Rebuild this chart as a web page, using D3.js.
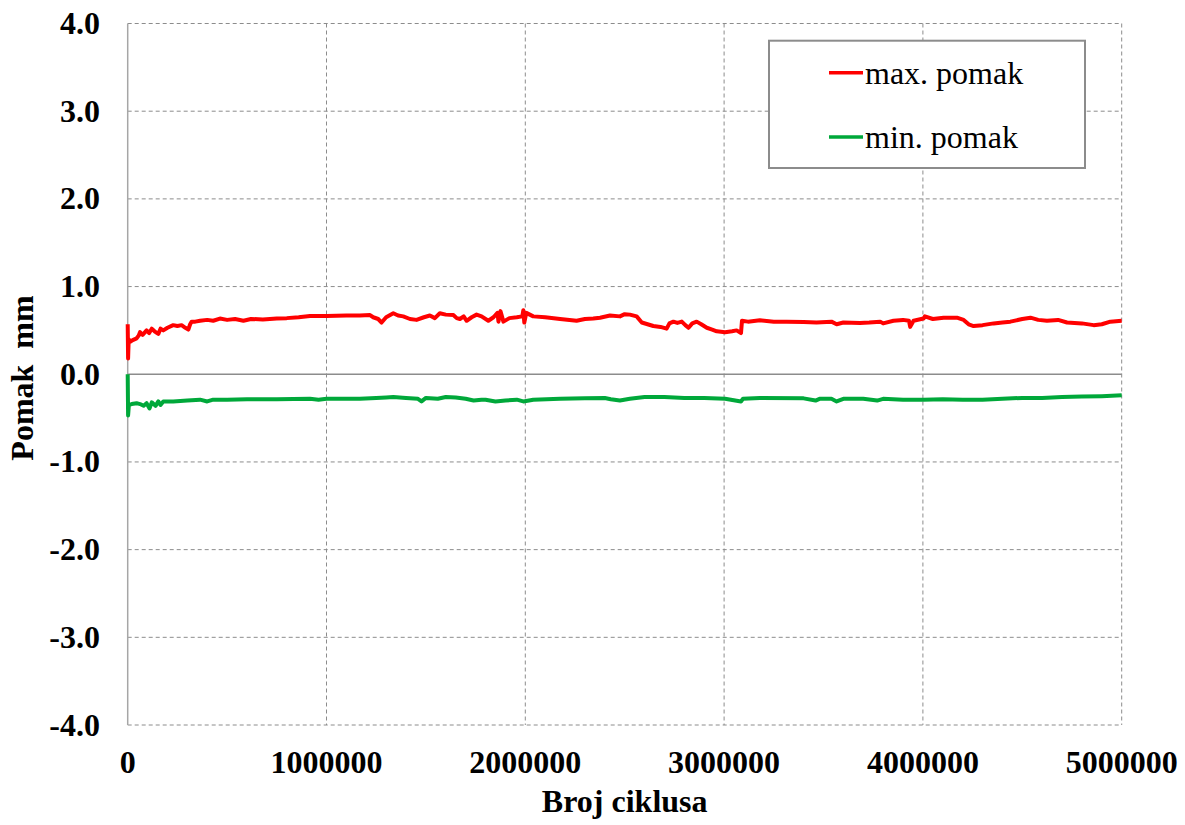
<!DOCTYPE html>
<html>
<head>
<meta charset="utf-8">
<script src="https://cdn.jsdelivr.net/npm/d3@7"></script>
<style>
  html, body { margin: 0; padding: 0; background: #fff; }
  svg { display: block; }
  svg text { font-family: "Liberation Serif", "Times New Roman", Times, serif; }
</style>
</head>
<body>
<svg id="chart" width="1185" height="825"></svg>
<script>
// ---- Data ----
const xTicks = [0, 1000000, 2000000, 3000000, 4000000, 5000000];
const yTicks = [4, 3, 2, 1, 0, -1, -2, -3, -4];
const seriesNames = ["max. pomak", "min. pomak"];
const seriesColors = ["#ff0000", "#00a83a"];

const maxPomak = [
[0,0.57],[2000,0.18],[5000,0.40],[12000,0.37],[25000,0.39],[45000,0.41],[55000,0.44],[62000,0.48],[75000,0.45],[95000,0.50],[108000,0.47],[121000,0.52],[135000,0.49],[154000,0.46],[165000,0.52],[179000,0.50],[200000,0.53],[229000,0.56],[250000,0.55],[271000,0.56],[290000,0.53],[305000,0.51],[314000,0.57],[322000,0.60],[340000,0.60],[364000,0.61],[400000,0.62],[430000,0.61],[464000,0.635],[500000,0.62],[540000,0.63],[582000,0.61],[620000,0.63],[680000,0.625],[750000,0.635],[800000,0.64],[860000,0.65],[917000,0.665],[1000000,0.665],[1100000,0.67],[1168000,0.67],[1219000,0.675],[1235000,0.65],[1260000,0.63],[1277000,0.59],[1300000,0.65],[1336000,0.695],[1360000,0.67],[1386000,0.66],[1420000,0.63],[1453000,0.62],[1490000,0.65],[1520000,0.67],[1545000,0.64],[1570000,0.695],[1600000,0.68],[1638000,0.675],[1655000,0.64],[1671000,0.63],[1690000,0.66],[1705000,0.61],[1730000,0.65],[1755000,0.68],[1780000,0.66],[1814000,0.61],[1840000,0.65],[1860000,0.70],[1865000,0.60],[1875000,0.72],[1890000,0.60],[1920000,0.64],[1957000,0.65],[1985000,0.66],[1990000,0.73],[1995000,0.59],[2005000,0.70],[2040000,0.66],[2100000,0.65],[2175000,0.63],[2258000,0.61],[2300000,0.63],[2342000,0.635],[2376000,0.645],[2426000,0.67],[2476000,0.66],[2500000,0.685],[2526000,0.68],[2560000,0.66],[2586000,0.59],[2615000,0.57],[2644000,0.55],[2680000,0.54],[2711000,0.52],[2725000,0.58],[2745000,0.60],[2765000,0.585],[2787000,0.60],[2805000,0.56],[2821000,0.53],[2840000,0.58],[2862000,0.60],[2885000,0.57],[2913000,0.53],[2940000,0.51],[2963000,0.49],[3005000,0.48],[3040000,0.49],[3063000,0.50],[3085000,0.47],[3090000,0.61],[3120000,0.60],[3180000,0.615],[3250000,0.60],[3314000,0.60],[3400000,0.595],[3465000,0.59],[3540000,0.60],[3566000,0.57],[3600000,0.59],[3683000,0.585],[3730000,0.59],[3785000,0.60],[3800000,0.58],[3852000,0.61],[3900000,0.62],[3930000,0.61],[3936000,0.54],[3953000,0.61],[4003000,0.635],[4010000,0.66],[4050000,0.63],[4104000,0.645],[4171000,0.645],[4205000,0.62],[4230000,0.57],[4255000,0.55],[4300000,0.56],[4356000,0.58],[4400000,0.59],[4440000,0.60],[4500000,0.63],[4541000,0.645],[4580000,0.62],[4624000,0.61],[4680000,0.62],[4725000,0.59],[4800000,0.58],[4859000,0.56],[4900000,0.57],[4943000,0.60],[5000000,0.61]
];

const minPomak = [
[0,0.0],[2000,-0.47],[6000,-0.35],[20000,-0.34],[45000,-0.33],[62000,-0.34],[80000,-0.36],[95000,-0.33],[110000,-0.39],[121000,-0.32],[140000,-0.36],[154000,-0.31],[165000,-0.35],[179000,-0.31],[229000,-0.31],[300000,-0.30],[364000,-0.29],[400000,-0.31],[430000,-0.29],[500000,-0.29],[600000,-0.285],[750000,-0.285],[917000,-0.28],[960000,-0.29],[1000000,-0.28],[1168000,-0.28],[1250000,-0.27],[1300000,-0.265],[1336000,-0.26],[1400000,-0.27],[1460000,-0.28],[1478000,-0.31],[1500000,-0.27],[1560000,-0.28],[1600000,-0.26],[1650000,-0.265],[1700000,-0.28],[1740000,-0.30],[1780000,-0.29],[1800000,-0.29],[1850000,-0.31],[1900000,-0.30],[1957000,-0.29],[1990000,-0.31],[2040000,-0.29],[2175000,-0.28],[2300000,-0.275],[2400000,-0.27],[2430000,-0.285],[2476000,-0.30],[2526000,-0.28],[2600000,-0.26],[2700000,-0.26],[2800000,-0.27],[2900000,-0.27],[3005000,-0.28],[3085000,-0.31],[3095000,-0.28],[3180000,-0.27],[3400000,-0.275],[3460000,-0.30],[3480000,-0.28],[3540000,-0.28],[3566000,-0.31],[3600000,-0.28],[3700000,-0.28],[3770000,-0.30],[3800000,-0.28],[3900000,-0.29],[4003000,-0.29],[4100000,-0.285],[4200000,-0.29],[4300000,-0.29],[4400000,-0.28],[4500000,-0.27],[4600000,-0.27],[4700000,-0.26],[4800000,-0.255],[4900000,-0.25],[5000000,-0.24]
];

// ---- Layout ----
const svg = d3.select("#chart");
const plotL = 127.7, plotR = 1121.7, plotT = 23.5, plotB = 725;
const x = d3.scaleLinear().domain([0, 5000000]).range([plotL, plotR]);
const y = d3.scaleLinear().domain([-4, 4]).range([plotB, plotT]);
const fs = 32;

// Grid lines (dashed)
const grid = svg.append("g");
grid.selectAll("line.h").data(yTicks.filter(d => d !== 0)).enter().append("line")
  .attr("x1", plotL).attr("x2", plotR)
  .attr("y1", d => y(d)).attr("y2", d => y(d))
  .attr("stroke", "#8c8c8c").attr("stroke-width", 1).attr("stroke-dasharray", "4,3");
grid.selectAll("line.v").data(xTicks.filter(d => d !== 0)).enter().append("line")
  .attr("x1", d => x(d)).attr("x2", d => x(d))
  .attr("y1", plotT).attr("y2", plotB)
  .attr("stroke", "#8c8c8c").attr("stroke-width", 1).attr("stroke-dasharray", "4,3");

// Axes lines (solid)
svg.append("line").attr("x1", plotL).attr("x2", plotR).attr("y1", y(0)).attr("y2", y(0))
  .attr("stroke", "#8c8c8c").attr("stroke-width", 1.5);
svg.append("line").attr("x1", plotL).attr("x2", plotL).attr("y1", plotT).attr("y2", plotB)
  .attr("stroke", "#a6a6a6").attr("stroke-width", 1.5);

// Tick labels
svg.append("g").selectAll("text").data(yTicks).enter().append("text")
  .attr("x", 100).attr("y", d => y(d) + 10.5)
  .attr("text-anchor", "end")
  .attr("font-weight", "bold").attr("font-size", fs)
  .text(d => d.toFixed(1));
svg.append("g").selectAll("text").data(xTicks).enter().append("text")
  .attr("x", d => x(d)).attr("y", 773)
  .attr("text-anchor", "middle")
  .attr("font-weight", "bold").attr("font-size", fs)
  .text(d => String(d));

// Axis titles
svg.append("text").attr("x", (plotL + plotR) / 2).attr("y", 812)
  .attr("text-anchor", "middle")
  .attr("font-weight", "bold").attr("font-size", fs)
  .text("Broj ciklusa");
svg.append("text").attr("transform", "translate(33,378) rotate(-90)")
  .attr("text-anchor", "middle")
  .attr("font-weight", "bold").attr("font-size", fs)
  .style("white-space", "pre")
  .text("Pomak  mm");

// Lines
const line = d3.line().x(d => x(d[0])).y(d => y(d[1]));
[maxPomak, minPomak].forEach((data, i) => {
  svg.append("path").datum(data)
    .attr("fill", "none")
    .attr("stroke", seriesColors[i])
    .attr("stroke-width", 4)
    .attr("stroke-linejoin", "round")
    .attr("d", line);
});

// Legend
const lg = svg.append("g");
lg.append("rect").attr("x", 769).attr("y", 40.7).attr("width", 316).attr("height", 127.3)
  .attr("fill", "#fff").attr("stroke", "#8c8c8c").attr("stroke-width", 2);
const legendY = [72.7, 137];
seriesNames.forEach((name, i) => {
  lg.append("line").attr("x1", 829).attr("x2", 863)
    .attr("y1", legendY[i]).attr("y2", legendY[i])
    .attr("stroke", seriesColors[i]).attr("stroke-width", 3.5);
  lg.append("text").attr("x", 865).attr("y", legendY[i] + 11)
    .attr("font-size", fs)
    .text(name);
});
</script>
</body>
</html>
